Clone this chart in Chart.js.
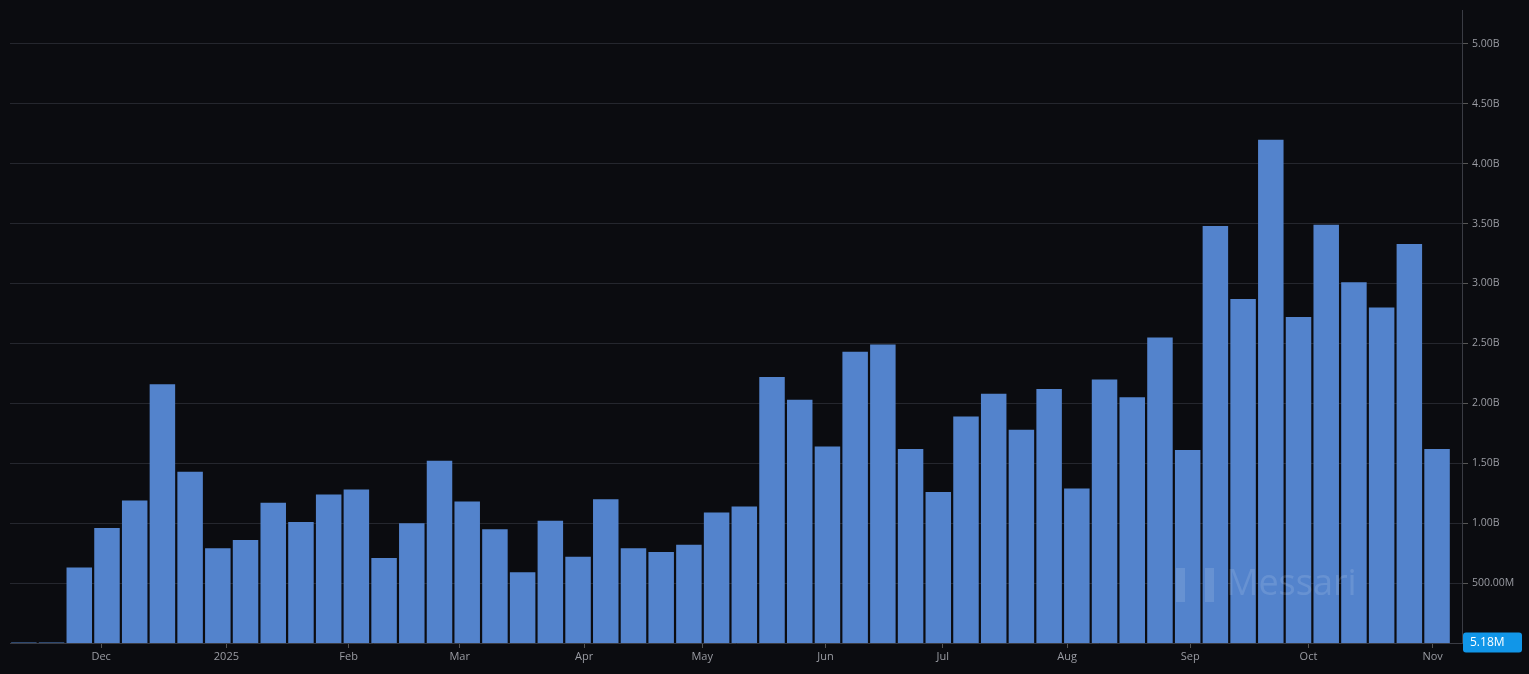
<!DOCTYPE html>
<html><head><meta charset="utf-8">
<script src="https://cdn.jsdelivr.net/npm/chart.js@4"></script>
<style>html,body{margin:0;background:#0b0c10;}#w{width:1529px;height:674px;}</style>
</head><body><div id="w"><canvas id="c"></canvas></div>
<script>
const volumes = [0.00518,0.00518,0.63,0.96,1.19,2.16,1.43,0.79,0.86,1.17,1.01,1.24,1.28,0.71,1.00,1.52,1.18,0.95,0.59,1.02,0.72,1.20,0.79,0.76,0.82,1.09,1.14,2.22,2.03,1.64,2.43,2.49,1.62,1.26,1.89,2.08,1.78,2.12,1.29,2.20,2.05,2.55,1.61,3.48,2.87,4.20,2.72,3.49,3.01,2.80,3.33,1.62];
const monthLabels = ['Dec','2025','Feb','Mar','Apr','May','Jun','Jul','Aug','Sep','Oct','Nov'];
const monthPositions = [2.79,7.31,11.72,15.73,20.22,24.48,28.93,33.16,37.65,42.09,46.36,50.84];
const lastLabel = '5.18M';
const lastValue = 0.00518;

const fmt = v => v >= 1 ? v.toFixed(2)+'B' : (v*1000).toFixed(2)+'M';
const extras = {
  id:'extras',
  beforeDraw(ch){const c=ch.ctx;c.save();c.fillStyle='#0b0c10';c.fillRect(0,0,ch.width,ch.height);c.restore();},
  afterDatasetsDraw(ch){
    const c=ch.ctx;
    c.save();
    c.font='36px "Open Sans"';c.fillStyle='rgba(255,255,255,0.12)';c.textBaseline='middle';
    c.fillText('Messari',1226,585);
    c.fillRect(1176,568,9,34);c.fillRect(1205,568,9,34);
    c.restore();
  },
  afterDraw(ch){
    const c=ch.ctx, y=ch.scales.y, a=ch.chartArea;
    const py=y.getPixelForValue(lastValue);
    c.save();
    c.fillStyle='#1196e8';
    c.beginPath();c.roundRect(a.right+1,py-10,59,20,3);c.fill();
    c.fillStyle='#fff';c.font='12px "Open Sans"';c.textBaseline='middle';
    c.fillText(lastLabel,a.right+8,py);
    c.restore();
  }
};
new Chart(document.getElementById('c'),{
  type:'bar',
  data:{datasets:[{data:volumes.map((v,i)=>({x:i,y:v})),backgroundColor:'#5383cc',barPercentage:0.92,categoryPercentage:1}]},
  options:{
    responsive:true,maintainAspectRatio:false,animation:false,
    layout:{padding:{left:10,right:0,top:0,bottom:0}},
    plugins:{legend:{display:false},tooltip:{enabled:false}},
    scales:{
      x:{type:'linear',min:-0.5,max:51.9,offset:false,
        afterBuildTicks(s){s.ticks=monthPositions.map(v=>({value:v}));},
        afterFit(s){s.height=31;},
        ticks:{autoSkip:false,maxRotation:0,color:'#9a9ca3',font:{size:11,family:'"Open Sans"'},padding:2,
          callback:(v,i)=>monthLabels[i]},
        grid:{drawOnChartArea:false,color:'#555',tickLength:5,offset:false},
        border:{color:'#3a3c44'}},
      y:{position:'right',min:0,max:5.28,
        afterBuildTicks(s){const t=[];for(let v=0.5;v<=5.001;v+=0.5)t.push({value:v});s.ticks=t;},
        afterFit(s){s.width=67;},
        ticks:{color:'#9a9ca3',font:{size:10.5,family:'"Open Sans"'},callback:v=>fmt(v),padding:4},
        grid:{color:'#25272e',tickLength:6,tickColor:'#555'},
        border:{color:'#3a3c44'}}
    }
  },
  plugins:[extras]
});
</script></body></html>
